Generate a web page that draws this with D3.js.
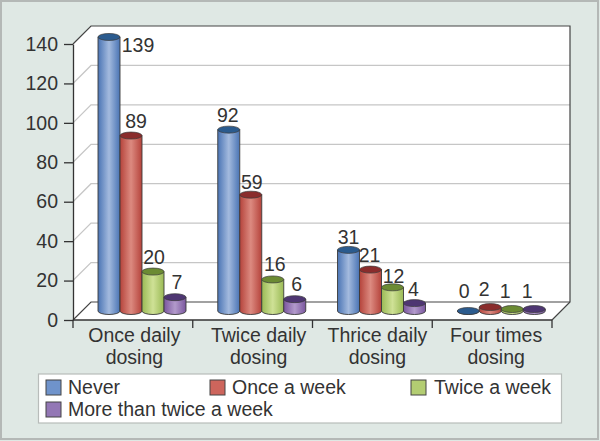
<!DOCTYPE html>
<html>
<head>
<meta charset="utf-8">
<script src="https://cdn.jsdelivr.net/npm/d3@7"></script>
<style>
html, body { margin: 0; padding: 0; background: #dfe8e4; }
svg { display: block; }
text { font-family: "Liberation Sans", Arial, sans-serif; fill: #333; }
</style>
</head>
<body>
<svg></svg>
<script>
var categories = ['Once daily dosing', 'Twice daily dosing', 'Thrice daily dosing', 'Four times dosing'];
var seriesNames = ['Never', 'Once a week', 'Twice a week', 'More than twice a week'];
var never = [139, 92, 31, 0];
var onceWeek = [89, 59, 21, 2];
var twiceWeek = [20, 16, 12, 1];
var moreThanTwice = [7, 6, 4, 1];
var yTicks = [0, 20, 40, 60, 80, 100, 120, 140];

var seriesValues = [never, onceWeek, twiceWeek, moreThanTwice];

var width = 600;
var height = 441;
var depth = 18;
var fontSize = 19.5;

// label tweaks, [dx, dy] from the default spot above the cylinder
var labelNudge = {
	'0-0': [29, 23], '0-1': [5, 0], '0-2': [1, 0], '0-3': [2, 0],
	'1-0': [-1, 0], '1-1': [1, 2], '1-2': [2, 0], '1-3': [2, 0],
	'2-0': [0, 2], '2-1': [-1, 0], '2-2': [1, 4], '2-3': [-1, 1],
	'3-0': [-4, -5], '3-1': [-6, -3], '3-2': [-7, -3], '3-3': [-7, -3]
};
// the category labels do not sit quite centred under their bands
var catLabelNudge = [1.5, 6, 5, 4];

var colors = [
	{ edge: '#4a74b4', mid: '#a3bade', top: '#2b5b8e', swatch: '#6f93cb' },
	{ edge: '#b5433b', mid: '#dc8a80', top: '#8a2c2c', swatch: '#cd655c' },
	{ edge: '#9aba55', mid: '#cfe196', top: '#6b8b33', swatch: '#b3cd72' },
	{ edge: '#7a569e', mid: '#b29acb', top: '#4e3672', swatch: '#9377b5' }
];

var svg = d3.select('svg')
	.attr('width', width)
	.attr('height', height);

var defs = svg.append('defs');
colors.forEach(function(c, i) {
	var grad = defs.append('linearGradient').attr('id', 'cyl' + i);
	grad.append('stop').attr('offset', '0%').attr('stop-color', c.edge);
	grad.append('stop').attr('offset', '50%').attr('stop-color', c.mid);
	grad.append('stop').attr('offset', '100%').attr('stop-color', c.edge);
});

// outer frame
svg.append('rect')
	.attr('x', 1).attr('y', 1)
	.attr('width', width - 3).attr('height', height - 3)
	.attr('fill', '#dfe8e4')
	.attr('stroke', '#b4b8b6')
	.attr('stroke-width', 2);

var xScale = d3.scaleBand().domain(categories).range([73, 552]);
var yScale = d3.scaleLinear().domain([0, 140]).range([320, 44]);
var seriesScale = d3.scaleBand().domain(seriesNames).range([25, 113]);

var left = xScale.range()[0];
var right = xScale.range()[1];
var floorY = yScale(0);
var topY = yScale(140);

// walls and floor
svg.append('path')
	.attr('d', `M${left},${floorY}L${left},${topY}L${left + depth},${topY - depth}L${right + depth},${topY - depth}L${right + depth},${floorY - depth}L${right},${floorY}Z`)
	.attr('fill', '#fff');

// gridlines on the back and side walls
svg.append('g')
	.selectAll('path')
	.data(yTicks.filter(d => d > 0 && d < 140))
	.enter()
	.append('path')
		.attr('d', d => `M${left},${yScale(d)}L${left + depth},${yScale(d) - depth}L${right + depth},${yScale(d) - depth}`)
		.attr('fill', 'none')
		.attr('stroke', '#c6c6c6')
		.attr('stroke-width', 1.3);

// wall edges
svg.append('path')
	.attr('d', `M${left},${topY}L${left + depth},${topY - depth}L${right + depth},${topY - depth}L${right + depth},${floorY - depth}L${right},${floorY}`)
	.attr('fill', 'none')
	.attr('stroke', '#444')
	.attr('stroke-width', 1.2);
svg.append('path')
	.attr('d', `M${left},${floorY}L${left + depth},${floorY - depth}L${right + depth},${floorY - depth}`)
	.attr('fill', 'none')
	.attr('stroke', '#444')
	.attr('stroke-width', 1.2);

// axes
var yAxis = d3.axisLeft(yScale)
	.tickValues(yTicks)
	.tickSize(9)
	.tickPadding(6)
	.tickSizeOuter(0);

var yG = svg.append('g')
	.attr('transform', `translate(${left}, 0)`)
	.call(yAxis);
yG.selectAll('text').style('font-size', fontSize + 'px');
yG.selectAll('line, path').attr('stroke', '#333').attr('stroke-width', 1.3);

svg.append('g')
	.selectAll('line')
	.data(d3.range(categories.length + 1))
	.enter()
	.append('line')
		.attr('x1', d => left + d * xScale.step())
		.attr('x2', d => left + d * xScale.step())
		.attr('y1', floorY)
		.attr('y2', floorY + 8)
		.attr('stroke', '#333')
		.attr('stroke-width', 1.3);

svg.append('line')
	.attr('x1', left).attr('x2', right)
	.attr('y1', floorY).attr('y2', floorY)
	.attr('stroke', '#333')
	.attr('stroke-width', 1.3);

// two line category labels
function catX(d, i) {
	return xScale(d) + xScale.bandwidth() / 2 + catLabelNudge[i];
}
var catLabels = svg.append('g')
	.selectAll('text')
	.data(categories)
	.enter()
	.append('text')
		.attr('text-anchor', 'middle')
		.style('font-size', fontSize + 'px');
catLabels.append('tspan')
	.attr('x', (d, i) => catX(d, i))
	.attr('y', 342)
	.text(d => d.slice(0, d.lastIndexOf(' ')));
catLabels.append('tspan')
	.attr('x', (d, i) => catX(d, i))
	.attr('y', 364)
	.text(d => d.slice(d.lastIndexOf(' ') + 1));

// cylinders
var rise = 9;
var ry = 3.5;
var rx = seriesScale.bandwidth() / 2;

var bars = [];
categories.forEach(function(cat, c) {
	seriesNames.forEach(function(name, s) {
		bars.push({ cat: cat, c: c, name: name, s: s, value: seriesValues[s][c] });
	});
});

var barG = svg.append('g')
	.selectAll('g')
	.data(bars)
	.enter()
	.append('g')
		.attr('transform', d => `translate(${xScale(d.cat) + seriesScale(d.name)}, 0)`);

barG.append('path')
	.attr('d', function(d) {
		var base = yScale(0) - rise;
		var top = yScale(d.value) - rise;
		return `M0,${top}L0,${base}A${rx},${ry} 0 0 0 ${2 * rx},${base}L${2 * rx},${top}Z`;
	})
	.attr('fill', d => `url(#cyl${d.s})`)
	.attr('stroke', '#3a3a3a')
	.attr('stroke-width', 0.9);

barG.append('ellipse')
	.attr('cx', rx)
	.attr('cy', d => yScale(d.value) - rise)
	.attr('rx', rx)
	.attr('ry', ry)
	.attr('fill', d => colors[d.s].top)
	.attr('stroke', '#3a3a3a')
	.attr('stroke-width', 0.7);

barG.append('text')
	.attr('x', d => rx + labelNudge[d.c + '-' + d.s][0])
	.attr('y', d => yScale(d.value) - rise - 8 + labelNudge[d.c + '-' + d.s][1])
	.attr('text-anchor', 'middle')
	.style('font-size', fontSize + 'px')
	.text(d => d.value);

// legend
svg.append('rect')
	.attr('x', 38.5).attr('y', 374)
	.attr('width', 523).attr('height', 49)
	.attr('fill', '#fff')
	.attr('stroke', '#b8bcba')
	.attr('stroke-width', 1.2);

var legendX = [46, 210, 411, 46];
var legendY = [380, 380, 380, 402];

var legend = svg.append('g')
	.selectAll('g')
	.data(seriesNames)
	.enter()
	.append('g')
		.attr('transform', (d, i) => `translate(${legendX[i]}, ${legendY[i]})`);

legend.append('rect')
	.attr('width', 15)
	.attr('height', 15)
	.attr('fill', (d, i) => colors[i].swatch)
	.attr('stroke', '#444')
	.attr('stroke-width', 1);

legend.append('text')
	.attr('x', (d, i) => i === 2 ? 23 : 22)
	.attr('y', 14)
	.style('font-size', fontSize + 'px')
	.text(d => d);
</script>
</body>
</html>
